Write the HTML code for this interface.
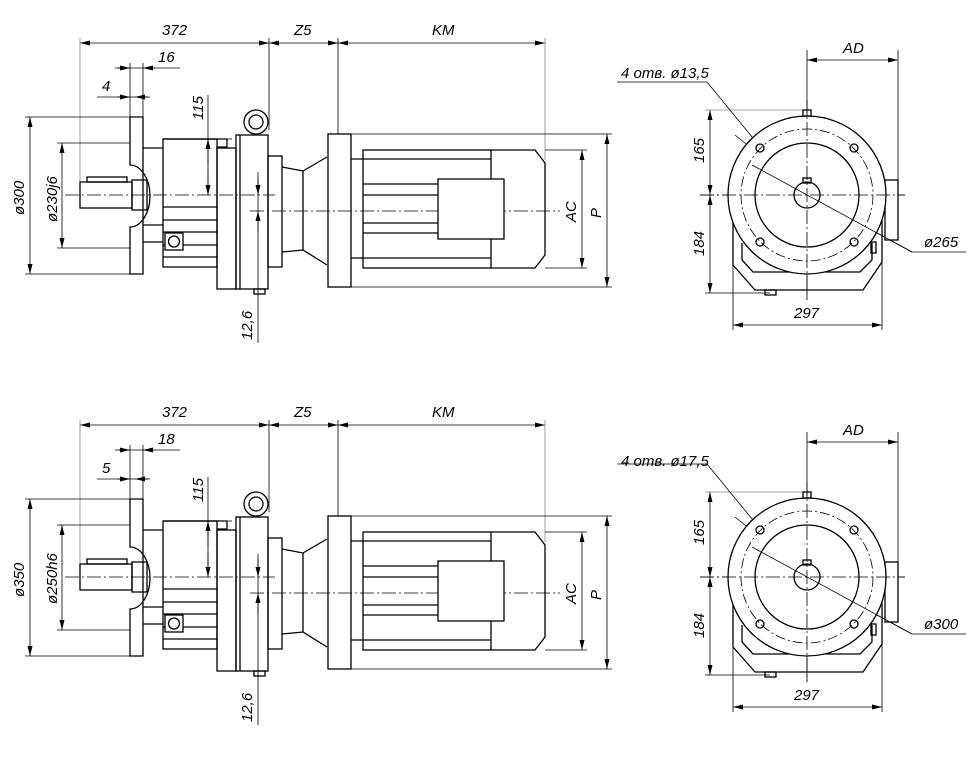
<!DOCTYPE html>
<html><head><meta charset="utf-8"><style>
html,body{margin:0;padding:0;background:#fff;}
svg{display:block;}
text{font-family:"Liberation Sans",sans-serif;font-style:italic;font-size:15px;fill:#000;}
</style></head><body>
<svg width="980" height="765" viewBox="0 0 980 765" xmlns="http://www.w3.org/2000/svg">
<defs>
<marker id="a" viewBox="0 0 10 5" refX="10" refY="2.5" markerWidth="10" markerHeight="5" markerUnits="userSpaceOnUse" orient="auto-start-reverse"><path d="M0,0 L10,2.5 L0,5 z" fill="#000"/></marker>
<g id="L" fill="none" stroke="#000">
  <!-- top dims -->
  <g stroke-width="0.8">
    <line x1="80" y1="43" x2="269" y2="43" marker-start="url(#a)" marker-end="url(#a)"/>
    <line x1="269" y1="43" x2="338" y2="43" marker-start="url(#a)" marker-end="url(#a)"/>
    <line x1="338" y1="43" x2="545" y2="43" marker-start="url(#a)" marker-end="url(#a)"/>
    <line x1="80" y1="38" x2="80" y2="183" stroke="#888"/>
    <line x1="269" y1="38" x2="269" y2="130"/>
    <line x1="338" y1="38" x2="338" y2="134"/>
    <line x1="545" y1="38" x2="545" y2="160" stroke="#888"/>
    <!-- 16 / 4 -->
    <line x1="115" y1="68" x2="180" y2="68"/>
    <line x1="118" y1="68" x2="130" y2="68" marker-end="url(#a)"/>
    <line x1="155" y1="68" x2="143" y2="68" marker-end="url(#a)"/>
    <line x1="97" y1="97" x2="150" y2="97"/>
    <line x1="117" y1="97" x2="130" y2="97" marker-end="url(#a)"/>
    <line x1="148" y1="97" x2="135" y2="97" marker-end="url(#a)"/>
    <line x1="130" y1="63" x2="130" y2="117"/>
    <line x1="143" y1="63" x2="143" y2="117"/>
    <!-- phi300 -->
    <line x1="30" y1="117" x2="30" y2="274" marker-start="url(#a)" marker-end="url(#a)"/>
    <line x1="25" y1="117" x2="130" y2="117"/>
    <line x1="25" y1="274" x2="130" y2="274"/>
    <line x1="62" y1="143" x2="62" y2="248" marker-start="url(#a)" marker-end="url(#a)"/>
    <line x1="57" y1="143" x2="130" y2="143"/>
    <line x1="57" y1="248" x2="130" y2="248"/>
    <!-- 115 -->
    <line x1="208" y1="95" x2="208" y2="195"/>
    <line x1="208" y1="165" x2="208" y2="139" marker-end="url(#a)"/>
    <line x1="208" y1="170" x2="208" y2="195" marker-end="url(#a)"/>
    <line x1="204" y1="139" x2="232" y2="139"/>
    <!-- 12,6 -->
    <line x1="258" y1="177" x2="258" y2="343"/>
    <line x1="258" y1="172" x2="258" y2="195" marker-end="url(#a)"/>
    <line x1="258" y1="232" x2="258" y2="211" marker-end="url(#a)"/>
    <!-- AC / P -->
    <line x1="582" y1="150" x2="582" y2="268" marker-start="url(#a)" marker-end="url(#a)"/>
    <line x1="607" y1="134" x2="607" y2="287" marker-start="url(#a)" marker-end="url(#a)"/>
    <line x1="545" y1="150" x2="587" y2="150"/>
    <line x1="545" y1="268" x2="587" y2="268"/>
    <line x1="351" y1="134" x2="612" y2="134"/>
    <line x1="351" y1="287" x2="612" y2="287"/>
    <!-- centerlines -->
    <line x1="65" y1="195" x2="275" y2="195" stroke-dasharray="14,3,2,3"/>
    <line x1="250" y1="211" x2="560" y2="211" stroke-dasharray="14,3,2,3"/>
  </g>
  <g stroke-width="1.3">
    <!-- flange -->
    <path d="M130,117 H143 V274 H130 V227 A20,31 0 0 0 130,165 Z"/>
    <rect x="80" y="182" width="52" height="26"/>
    <rect x="87" y="177" width="40" height="5"/>
    <rect x="132" y="180" width="15" height="30"/>
    <line x1="143" y1="148" x2="163" y2="148"/>
    <line x1="143" y1="225" x2="163" y2="225"/>
    <line x1="143" y1="242" x2="163" y2="242"/>
    <!-- gearbox -->
    <rect x="163" y="139" width="54" height="128"/>
    <path d="M163,139 H227 V147 H217"/>
    <line x1="163" y1="207" x2="217" y2="207"/>
    <line x1="163" y1="220" x2="217" y2="220"/>
    <line x1="163" y1="232" x2="217" y2="232"/>
    <line x1="163" y1="245" x2="217" y2="245"/>
    <line x1="163" y1="257" x2="217" y2="257"/>
    <rect x="165" y="233" width="18" height="17" fill="#fff"/>
    <circle cx="174" cy="241.5" r="5.5"/>
    <rect x="217" y="148" width="19" height="141"/>
    <rect x="236" y="135" width="32" height="154"/>
    <line x1="240" y1="135" x2="240" y2="289"/>
    <circle cx="256" cy="122" r="12" fill="#fff"/>
    <circle cx="256" cy="122" r="7"/>
    <rect x="254" y="289" width="11" height="5"/>
    <!-- output flange + cone -->
    <rect x="268" y="156" width="14" height="111"/>
    <path d="M282,167 L303,171 L327,157"/>
    <path d="M282,252 L303,250 L327,265"/>
    <line x1="303" y1="171" x2="303" y2="250"/>
    <!-- motor -->
    <rect x="328" y="134" width="23" height="153"/>
    <rect x="363" y="150" width="128" height="118"/>
    <line x1="351" y1="159" x2="491" y2="159"/>
    <line x1="351" y1="258" x2="491" y2="258"/>
    <line x1="363" y1="184" x2="438" y2="184"/>
    <line x1="363" y1="195" x2="438" y2="195"/>
    <line x1="363" y1="223" x2="438" y2="223"/>
    <line x1="363" y1="233" x2="438" y2="233"/>
    <rect x="438" y="179" width="66" height="60" fill="#fff"/>
    <path d="M491,150 H535 L545,163 V255 L535,268 H491"/>
  </g>
</g>
<g id="R" fill="none" stroke="#000">
  <g stroke-width="0.8">
    <line x1="807" y1="60" x2="898" y2="60" marker-start="url(#a)" marker-end="url(#a)"/>
    <line x1="807" y1="50" x2="807" y2="300"/>
    <line x1="898" y1="50" x2="898" y2="180"/>
    <line x1="700" y1="195" x2="905" y2="195" stroke-dasharray="14,3,2,3"/>
    <line x1="710" y1="110" x2="710" y2="195" marker-start="url(#a)" marker-end="url(#a)"/>
    <line x1="710" y1="195" x2="710" y2="293" marker-start="url(#a)" marker-end="url(#a)"/>
    <line x1="705" y1="110" x2="805" y2="110" stroke="#888"/>
    <line x1="705" y1="293" x2="770" y2="293"/>
    <line x1="733" y1="325" x2="882" y2="325" marker-start="url(#a)" marker-end="url(#a)"/>
    <line x1="733" y1="265" x2="733" y2="330"/>
    <line x1="882" y1="262" x2="882" y2="330"/>
    <path d="M617,82 H707 L775,165"/>
    <line x1="735" y1="135" x2="756" y2="152" marker-end="url(#a)"/>
    <line x1="780" y1="165" x2="762" y2="152" marker-end="url(#a)"/>
    <path d="M752,165 L912,252 H966"/>
    <line x1="800" y1="191" x2="752" y2="165" marker-end="url(#a)"/>
    <line x1="830" y1="207" x2="858" y2="222" marker-end="url(#a)"/>
    <circle cx="807" cy="195" r="66" stroke-dasharray="10,3,2,3"/>
  </g>
  <g stroke-width="1.3">
    <path d="M733,218 V265 L755,290 H863 L882,262 V218"/>
    <path d="M742,243 V260 L753,272 H860 L872,260 V243"/>
    <rect x="885" y="180" width="13" height="60" fill="#fff"/>
    <circle cx="807" cy="195" r="79" fill="#fff"/>
    <circle cx="807" cy="195" r="66" stroke-width="0.8" stroke-dasharray="10,3,2,3"/>
    <circle cx="807" cy="195" r="52"/>
    <circle cx="807" cy="195" r="13"/>
    <rect x="803" y="178" width="8" height="5"/>
    <rect x="803" y="110" width="8" height="6"/>
    <rect x="871" y="242" width="5" height="11"/>
    <rect x="765" y="290" width="11" height="5"/>
    <circle cx="760" cy="148" r="4"/><circle cx="854" cy="148" r="4"/>
    <circle cx="760" cy="242" r="4"/><circle cx="854" cy="242" r="4"/>
  </g>
  <g stroke-width="0.8">
    <line x1="807" y1="100" x2="807" y2="300" stroke-dasharray="14,3,2,3"/>
    <line x1="700" y1="195" x2="905" y2="195" stroke-dasharray="14,3,2,3"/>
    <line x1="752" y1="165" x2="912" y2="252"/>
  </g>
</g>
</defs>
<use href="#L"/>
<use href="#L" transform="translate(0,382)"/>
<use href="#R"/>
<use href="#R" transform="translate(0,382)"/>

<!-- texts top -->
<text x="162" y="35">372</text>
<text x="294" y="35">Z5</text>
<text x="432" y="35">KM</text>
<text x="158" y="62">16</text>
<text x="102" y="91">4</text>
<text transform="translate(203,120) rotate(-90)">115</text>
<text transform="translate(252,340) rotate(-90)">12,6</text>
<text transform="translate(24,215) rotate(-90)">ø300</text>
<text transform="translate(57,222) rotate(-90)">ø230j6</text>
<text transform="translate(576,222) rotate(-90)">AC</text>
<text transform="translate(601,218) rotate(-90)">P</text>
<text x="843" y="53">AD</text>
<text x="621" y="78">4 отв. ø13,5</text>
<text transform="translate(704,163) rotate(-90)">165</text>
<text transform="translate(704,256) rotate(-90)">184</text>
<text x="794" y="318">297</text>
<text x="924" y="247">ø265</text>

<!-- texts bottom -->
<text x="162" y="417">372</text>
<text x="294" y="417">Z5</text>
<text x="432" y="417">KM</text>
<text x="158" y="444">18</text>
<text x="102" y="473">5</text>
<text transform="translate(203,502) rotate(-90)">115</text>
<text transform="translate(252,722) rotate(-90)">12,6</text>
<text transform="translate(24,597) rotate(-90)">ø350</text>
<text transform="translate(57,604) rotate(-90)">ø250h6</text>
<text transform="translate(576,604) rotate(-90)">AC</text>
<text transform="translate(601,600) rotate(-90)">P</text>
<text x="843" y="435">AD</text>
<text x="621" y="466">4 отв. ø17,5</text>
<text transform="translate(704,545) rotate(-90)">165</text>
<text transform="translate(704,638) rotate(-90)">184</text>
<text x="794" y="700">297</text>
<text x="924" y="629">ø300</text>
</svg>
</body></html>
